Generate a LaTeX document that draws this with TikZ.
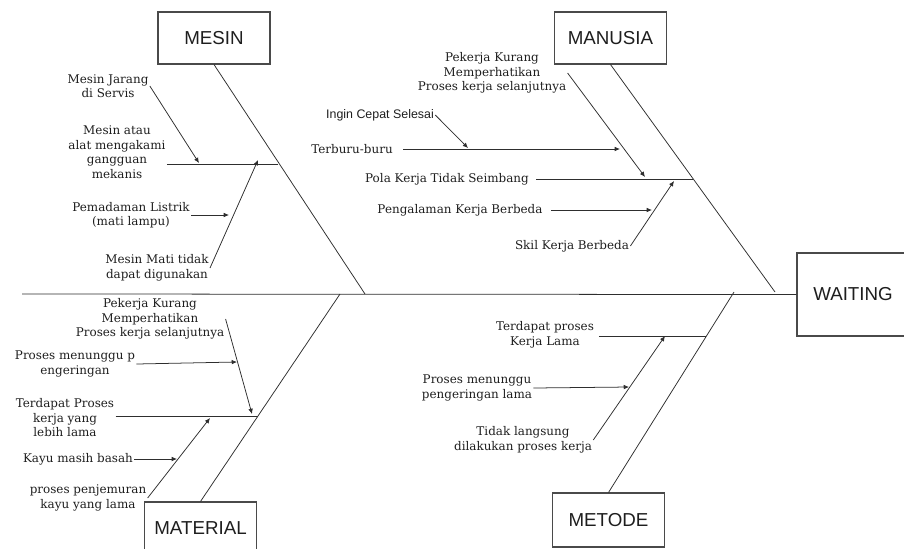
\documentclass[tikz,border=0pt]{standalone}
\usepackage{fontspec}
\setmainfont{DejaVu Serif}
\setsansfont{Liberation Sans}
\usepackage{tikz}
\usetikzlibrary{arrows.meta,calc}
\definecolor{fbLine}{HTML}{2E2E2E}
\definecolor{fbBox}{HTML}{4A4A4A}
\definecolor{fbText}{HTML}{1E1E1E}

\begin{document}
\begin{tikzpicture}[x=0.03cm,y=-0.03cm,font=\fontsize{10.2}{12.4}\selectfont,text=fbText,
  box/.style={draw=fbBox,line width=0.9pt,minimum width=3.36cm,minimum height=1.56cm,
              font=\sffamily\fontsize{16}{19}\selectfont},
  bone/.style={draw=fbLine,line width=0.65pt},
  cause/.style={draw=fbLine,line width=0.65pt,-{Latex[length=4.5pt,width=4pt]}},
  lbl/.style={align=center,inner sep=1pt}]
\clip (0,0) rectangle (904,548);

\node[box] (mesin)    at (214,38)    {MESIN};
\node[box] (manusia)  at (610.5,38)  {MANUSIA};
\node[box] (material) at (200.5,528) {MATERIAL};
\node[box,minimum height=1.62cm] (metode) at (608.5,520) {METODE};
\node[box,minimum height=2.49cm] (waiting) at (853,294.5) {WAITING};

\coordinate (tail) at (22,294);
\coordinate (e1) at (365,294);
\coordinate (e2) at (775,292);
\coordinate (e3) at (340,294);
\coordinate (e4) at (734,292);
\draw[bone] (tail) -- (waiting.west);
\draw[bone] (mesin.south) -- (e1);
\draw[bone] (manusia.south) -- (e2);
\draw[bone] (material.north) -- (e3);
\draw[bone] (metode.north) -- (e4);

\node[lbl] (mj) at (108,86)  {Mesin Jarang\\di Servis};
\node[lbl] (ma) at (117,152) {Mesin atau\\alat mengakami\\gangguan\\mekanis};
\node[lbl] (pm) at (131,215) {Pemadaman Listrik\\(mati lampu)};
\node[lbl] (mm) at (157,268) {Mesin Mati tidak\\dapat digunakan};
\coordinate (s1)  at (278,164);
\coordinate (s1a) at (199,163);
\coordinate (s1b) at (258,160);
\coordinate (s1c) at (229,215);
\draw[bone]  (ma.east |- s1) -- (s1);
\draw[cause] (mj.east) -- (s1a);
\draw[cause] (mm.east) -- (s1b);
\draw[cause] (pm.east) -- (s1c);

\node[lbl] (pkm) at (492,73)  {Pekerja Kurang\\Memperhatikan\\Proses kerja selanjutnya};
\node[lbl,font=\sffamily\fontsize{10.6}{12}\selectfont] (ic) at (380,115) {Ingin Cepat Selesai};
\node[lbl] (tb)  at (352,149) {Terburu-buru};
\node[lbl] (pk)  at (447,179) {Pola Kerja Tidak Seimbang};
\node[lbl] (pg)  at (460,210) {Pengalaman Kerja Berbeda};
\node[lbl] (sk)  at (572,246) {Skil Kerja Berbeda};
\coordinate (s2)  at (693,179);
\coordinate (s2a) at (645,177);
\coordinate (s2b) at (674,181);
\coordinate (s2c) at (620,149);
\coordinate (s2d) at (468,148);
\coordinate (s2e) at (652,210);
\draw[bone]  ([xshift=5pt]pk.east) -- (s2);
\draw[cause] (pkm.east) -- (s2a);
\draw[cause] ([xshift=8pt]tb.east) -- (s2c);
\draw[cause] (ic.east) -- (s2d);
\draw[cause] ([xshift=6pt]pg.east) -- (s2e);
\draw[cause] (sk.east) -- (s2b);

\node[lbl] (pkt) at (150,319) {Pekerja Kurang\\Memperhatikan\\Proses kerja selanjutnya};
\node[lbl] (pmp) at (75,364)  {Proses menunggu p\\engeringan};
\node[lbl] (tp)  at (65,418)  {Terdapat Proses\\kerja yang\\lebih lama};
\node[lbl] (kb)  at (78,459)  {Kayu masih basah};
\node[lbl] (pj)  at (88,498)  {proses penjemuran\\kayu yang lama};
\coordinate (s3)  at (258,416);
\coordinate (s3a) at (252,414);
\coordinate (s3b) at (237,362);
\coordinate (s3c) at (210,418);
\coordinate (s3d) at (177,459);
\draw[bone]  (tp.east |- s3) -- (s3);
\draw[cause] (pkt.east) -- (s3a);
\draw[cause] (pmp.east) -- (s3b);
\draw[cause] (pj.east) -- (s3c);
\draw[cause] (kb.east) -- (s3d);

\node[lbl] (tk)  at (545,335) {Terdapat proses\\Kerja Lama};
\node[lbl] (pml) at (477,388) {Proses menunggu\\pengeringan lama};
\node[lbl] (tl)  at (523,440) {Tidak langsung\\dilakukan proses kerja};
\coordinate (s4)  at (706,336);
\coordinate (s4a) at (665,336);
\coordinate (s4b) at (629,387);
\draw[bone]  ([xshift=3pt]tk.east |- s4) -- (s4);
\draw[cause] (tl.east) -- (s4a);
\draw[cause] (pml.east) -- (s4b);
\end{tikzpicture}
\end{document}
